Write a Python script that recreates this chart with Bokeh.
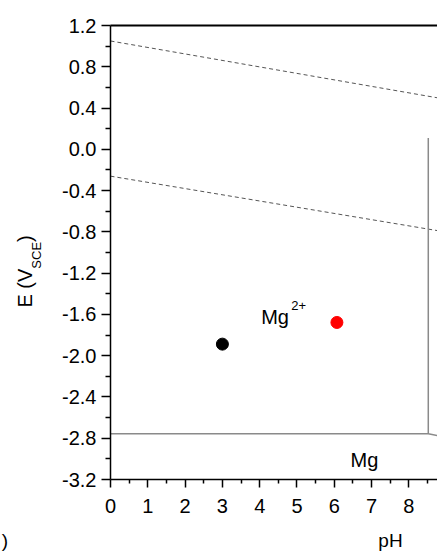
from bokeh.plotting import figure
from bokeh.models import (LinearAxis, FixedTicker, NumeralTickFormatter, Label,
                          ColumnDataSource, Range1d, CustomJSTickFormatter)
from bokeh.embed import file_html
from bokeh.resources import INLINE

# ---- data ----
x_ticks = [0, 1, 2, 3, 4, 5, 6, 7, 8, 9, 10, 11, 12, 13, 14]
x_minor = [0.5, 1.5, 2.5, 3.5, 4.5, 5.5, 6.5, 7.5, 8.5, 9.5, 10.5, 11.5, 12.5, 13.5]
y_ticks = [-3.2, -2.8, -2.4, -2.0, -1.6, -1.2, -0.8, -0.4, 0.0, 0.4, 0.8, 1.2]
y_minor = [-3.0, -2.6, -2.2, -1.8, -1.4, -1.0, -0.6, -0.2, 0.2, 0.6, 1.0]

# water stability lines (dashed)
o2_ph = [0, 8.8]
o2_e = [1.05, 0.497]
h2_ph = [0, 8.8]
h2_e = [-0.26, -0.79]

# Mg / Mg2+ boundary
mg_ph = [0, 8.52, 8.8]
mg_e = [-2.756, -2.756, -2.776]
# Mg2+ / Mg(OH)2 boundary
hyd_ph = [8.52, 8.52]
hyd_e = [-2.756, 0.11]

# measured points
pt_ph = [3.0, 6.07]
pt_e = [-1.888, -1.678]
pt_color = ["black", "red"]

# texts
y_title_main = ["E (V", ")"]
y_title_sub = ["SCE"]
x_title = [")" + "\u00a0" * 40, "pH"]

FONT = "Liberation Sans"

p = figure(width=437, height=554, output_backend="svg", toolbar_location=None,
           x_range=Range1d(0, 8.767), y_range=Range1d(-3.2, 1.2),
           min_border_left=110, min_border_right=0, min_border_top=25,
           min_border_bottom=75, x_axis_location=None, y_axis_location=None)
p.outline_line_color = None
p.xgrid.visible = False
p.ygrid.visible = False
p.background_fill_color = "white"
p.border_fill_color = "white"


def style_axis(ax):
    ax.axis_line_color = "black"
    ax.axis_line_width = 1.5
    ax.major_tick_line_color = "black"
    ax.minor_tick_line_color = "black"
    ax.major_tick_line_width = 1.5
    ax.minor_tick_line_width = 1.5
    ax.major_tick_in = 0
    ax.minor_tick_in = 0
    ax.major_tick_out = 8
    ax.minor_tick_out = 4
    ax.major_label_text_font = FONT
    ax.major_label_text_font_size = "20px"
    ax.major_label_text_color = "black"


def text_axis(ticks, labels, size, standoff, orientation="horizontal"):
    ax = LinearAxis(ticker=FixedTicker(ticks=ticks),
                    formatter=CustomJSTickFormatter(args=dict(labels=labels),
                                                    code="return labels[index];"))
    ax.axis_line_color = None
    ax.major_tick_line_color = None
    ax.minor_tick_line_color = None
    ax.major_tick_in = 0
    ax.major_tick_out = 0
    ax.minor_tick_in = 0
    ax.minor_tick_out = 0
    ax.major_label_text_font = FONT
    ax.major_label_text_font_size = size
    ax.major_label_text_color = "black"
    ax.major_label_standoff = standoff
    ax.major_label_orientation = orientation
    return ax


# bottom: numeric x axis, then a text row holding ")" and "pH"
xa = LinearAxis(ticker=FixedTicker(ticks=x_ticks, minor_ticks=x_minor))
style_axis(xa)
xa.major_label_standoff = 11
p.add_layout(xa, "below")
p.add_layout(text_axis([0, 7.507], x_title, "19px", 14), "below")

# left: numeric y axis, then the rotated title E (V_SCE)
ya = LinearAxis(ticker=FixedTicker(ticks=y_ticks, minor_ticks=y_minor),
                formatter=NumeralTickFormatter(format="0.0"))
style_axis(ya)
ya.major_tick_out = 9
ya.minor_tick_out = 5
ya.major_label_standoff = 5
p.add_layout(ya, "left")
p.add_layout(text_axis([-1.027], y_title_sub, "13px", 15, "parallel"), "left")
p.add_layout(text_axis([-1.345, -0.865], y_title_main, "20px", -10, "parallel"), "left")

top = LinearAxis(ticker=FixedTicker(ticks=[]))
top.axis_line_color = "black"
top.axis_line_width = 2
top.major_label_text_font_size = "0px"
top.major_tick_out = 0
top.minor_tick_out = 0
p.add_layout(top, "above")

p.line(o2_ph, o2_e, line_color="#555555", line_width=1, line_dash="4 3")
p.line(h2_ph, h2_e, line_color="#555555", line_width=1, line_dash="4 3")
p.line(mg_ph, mg_e, line_color="#8a8a8a", line_width=1.5)
p.line(hyd_ph, hyd_e, line_color="#8a8a8a", line_width=1.5)

src = ColumnDataSource(dict(x=pt_ph, y=pt_e, c=pt_color))
p.scatter("x", "y", source=src, size=12, fill_color="c", line_color="c")


def lab(x, y, t, size="20px"):
    p.add_layout(Label(x=x, y=y, text=t, text_font=FONT, text_font_size=size,
                       text_color="black", text_align="left",
                       text_baseline="alphabetic"))


lab(4.04, -1.629, "Mg")
lab(4.845, -1.513, "2+", size="13px")
lab(6.434, -3.015, "Mg")

open("out.html", "w").write(file_html(p, INLINE))
